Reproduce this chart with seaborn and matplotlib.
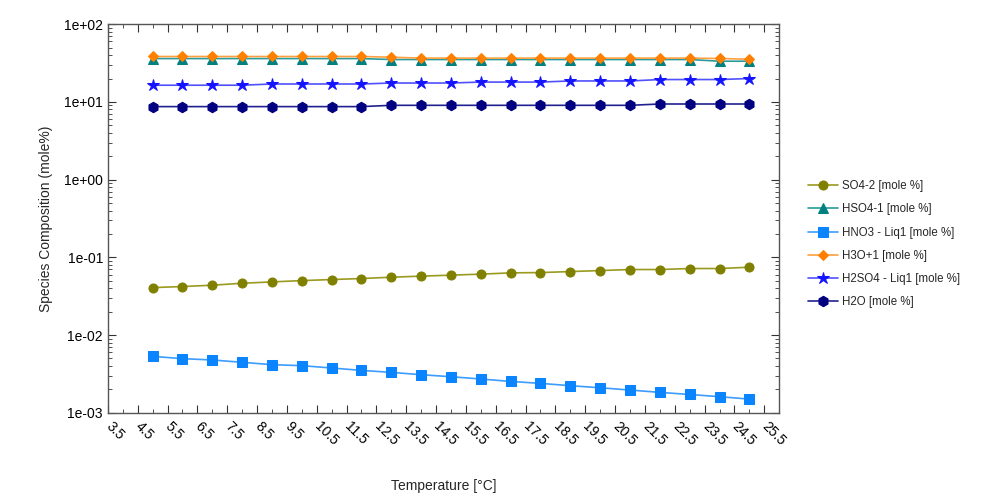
import numpy as np
import pandas as pd
import matplotlib
matplotlib.use("Agg")
import matplotlib.pyplot as plt
import matplotlib.ticker as mticker
import seaborn as sns

temperature = [5, 6, 7, 8, 9, 10, 11, 12, 13, 14, 15, 16, 17, 18, 19, 20, 21, 22, 23, 24, 25]

so4_2 = [0.0408, 0.0421, 0.0438, 0.0464, 0.0483, 0.0502, 0.0518, 0.0534, 0.0555, 0.0573, 0.0590,
         0.0608, 0.0631, 0.0637, 0.0656, 0.0676, 0.0697, 0.0697, 0.0718, 0.0718, 0.0746]
hso4_1 = [36.1, 36.1, 36.1, 36.1, 36.1, 36.1, 36.1, 36.1, 35.1, 35.1, 35.1,
          35.1, 35.1, 35.1, 35.1, 35.1, 35.1, 35.1, 35.1, 33.4, 33.4]
hno3 = [0.00532, 0.00497, 0.00478, 0.00446, 0.00416, 0.00404, 0.00377, 0.00351, 0.00331, 0.00309, 0.00291,
        0.00272, 0.00253, 0.00239, 0.00223, 0.00210, 0.00196, 0.00183, 0.00172, 0.00161, 0.00150]
h3o_1 = [38.4, 38.4, 38.4, 38.4, 38.4, 38.4, 38.4, 38.4, 37.6, 36.6, 36.6,
         36.6, 36.6, 36.6, 36.6, 36.6, 36.6, 36.6, 36.6, 36.2, 35.4]
h2so4 = [16.4, 16.4, 16.4, 16.4, 17.0, 17.0, 17.0, 17.0, 17.5, 17.5, 17.5,
         18.0, 18.0, 18.0, 18.6, 18.6, 18.6, 19.4, 19.4, 19.4, 20.0]
h2o = [8.7, 8.7, 8.7, 8.7, 8.7, 8.7, 8.7, 8.7, 9.04, 9.04, 9.04,
       9.04, 9.04, 9.04, 9.04, 9.04, 9.04, 9.4, 9.4, 9.4, 9.4]

series_names = ["SO4-2 [mole %]", "HSO4-1 [mole %]", "HNO3 - Liq1 [mole %]",
                "H3O+1 [mole %]", "H2SO4 - Liq1 [mole %]", "H2O [mole %]"]
series_values = [so4_2, hso4_1, hno3, h3o_1, h2so4, h2o]
marker_colors = ["#808000", "#008080", "#0A84FF", "#FF8000", "#1414FF", "#000080"]
line_colors = ["#9A9A20", "#2A9A9A", "#3C9CFF", "#FFA040", "#5050FF", "#202090"]
markers = ["o", "^", "s", "D", "*", "h"]
msizes = [6.5, 7, 6.5, 5.5, 9, 7.5]

x_ticks = [3.5 + i for i in range(23)]

rows = []
for name, vals in zip(series_names, series_values):
    for t, v in zip(temperature, vals):
        rows.append({"Temperature": t, "Value": v, "Series": name})
df = pd.DataFrame(rows)

sns.set_style("ticks")
plt.rcParams["font.family"] = ["Liberation Sans", "DejaVu Sans"]

fig = plt.figure(figsize=(10.08, 5.04), dpi=100)
ax = fig.add_axes([0.107, 0.181, 0.666, 0.771])

for name, mc, lc, mk, ms in zip(series_names, marker_colors, line_colors, markers, msizes):
    sub = df[df["Series"] == name]
    sns.lineplot(data=sub, x="Temperature", y="Value", ax=ax, color=lc, linewidth=1.2,
                 marker=mk, markersize=ms, markerfacecolor=mc, markeredgecolor=mc,
                 label=name, estimator=None, errorbar=None)

ax.set_yscale("log")
ax.set_ylim(1e-3, 1e2)
ax.set_xlim(3.5, 26.0)
ax.set_xticks(x_ticks)
ax.set_xticklabels([f"{t:.1f}" for t in x_ticks], rotation=-45, ha="left",
                   va="center", rotation_mode="anchor")
ax.xaxis.set_minor_locator(mticker.MultipleLocator(1.0))
ax.yaxis.set_major_locator(mticker.LogLocator(base=10, numticks=10))
ax.yaxis.set_minor_locator(mticker.LogLocator(base=10, subs=np.arange(2, 10), numticks=20))
ax.yaxis.set_minor_formatter(mticker.NullFormatter())
ax.yaxis.set_major_formatter(mticker.FuncFormatter(lambda v, p: f"{v:.0e}"))

ax.tick_params(axis="both", which="major", direction="in", length=6, width=0.8,
               top=True, right=True, labelsize=10, colors="#333333", labelcolor="black")
ax.tick_params(axis="both", which="minor", direction="in", length=3, width=0.6,
               top=True, right=True, colors="#333333")
ax.tick_params(axis="x", which="major", pad=8)
for s in ax.spines.values():
    s.set_color("#555555")
    s.set_linewidth(1.0)

ax.set_xlabel("Temperature [°C]", fontsize=10, labelpad=22)
ax.set_ylabel("Species Composition (mole%)", fontsize=10, labelpad=8)

ax.legend(loc="upper left", bbox_to_anchor=(0.802, 0.642), bbox_transform=fig.transFigure,
          frameon=False, fontsize=8.3, handlelength=2.6, labelspacing=0.96,
          handletextpad=0.3, borderaxespad=0, borderpad=0)

fig.savefig("out.png", dpi=100)
